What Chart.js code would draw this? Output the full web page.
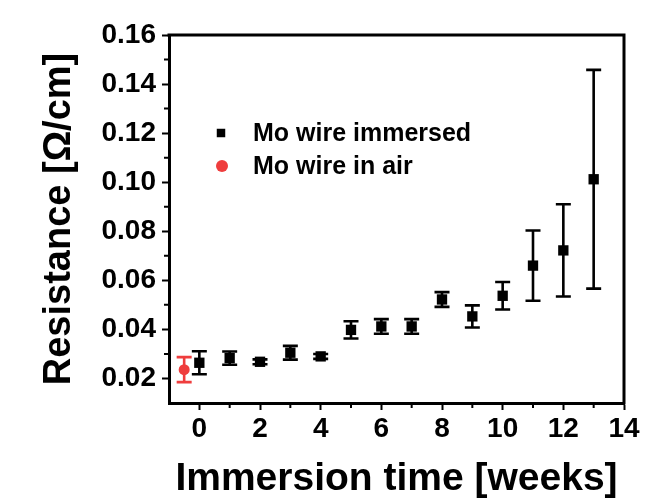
<!DOCTYPE html>
<html>
<head>
<meta charset="utf-8">
<script src="https://cdn.jsdelivr.net/npm/chart.js@4.4.1/dist/chart.umd.min.js"></script>
<style>
  html, body { margin: 0; background: #fff; }
  #wrap { width: 662px; height: 502px; }
</style>
</head>
<body>
<div id="wrap"><canvas id="chart"></canvas></div>
<script>
// Data
const weeks = [0, 1, 2, 3, 4, 5, 6, 7, 8, 9, 10, 11, 12, 13];
const resistance = [0.0264, 0.0283, 0.0268, 0.0305, 0.0290, 0.0398, 0.0412, 0.0412, 0.0522, 0.0453, 0.0537, 0.0660, 0.0722, 0.1012];
const resistanceErr = [0.0047, 0.0027, 0.0010, 0.0028, 0.0010, 0.0035, 0.0030, 0.0030, 0.0030, 0.0045, 0.0056, 0.0143, 0.0188, 0.0446];

const airWeeks = [-0.5];
const airResistance = [0.0236];
const airErr = [0.0051];

const xTickValues = [0, 2, 4, 6, 8, 10, 12, 14];
const xMinorTicks = [1, 3, 5, 7, 9, 11, 13];
const yTickValues = [0.02, 0.04, 0.06, 0.08, 0.10, 0.12, 0.14, 0.16];
const yMinorTicks = [0.03, 0.05, 0.07, 0.09, 0.11, 0.13, 0.15];

const xTitle = 'Immersion time [weeks]';
const yTitle = 'Resistance [Ω/cm]';

const FONT = "'Liberation Sans', Arial, sans-serif";
const RED = '#ef3d3d';

// error bars drawn under the markers
const errorBars = {
    id: 'errorBars',
    beforeDatasetsDraw(chart) {
        const { ctx, scales: { x, y } } = chart;
        chart.data.datasets.forEach(ds => {
            ctx.save();
            ctx.strokeStyle = ds.backgroundColor;
            ctx.lineWidth = 2.6;
            ds.data.forEach((p, i) => {
                const px = x.getPixelForValue(p.x);
                const top = y.getPixelForValue(p.y + ds.errors[i]);
                const bot = y.getPixelForValue(p.y - ds.errors[i]);
                ctx.beginPath();
                ctx.moveTo(px, top); ctx.lineTo(px, bot);
                ctx.moveTo(px - 7.5, top); ctx.lineTo(px + 7.5, top);
                ctx.moveTo(px - 7.5, bot); ctx.lineTo(px + 7.5, bot);
                ctx.stroke();
            });
            ctx.restore();
        });
    }
};

// top/right frame, minor ticks, y title, legend inside the plot
const frameAndLegend = {
    id: 'frameAndLegend',
    afterDraw(chart) {
        const { ctx, chartArea: a, scales: { x, y } } = chart;
        ctx.save();
        ctx.strokeStyle = '#000';
        ctx.lineWidth = 3;
        ctx.beginPath();
        ctx.moveTo(a.left - 1.5, a.top);
        ctx.lineTo(a.right, a.top);
        ctx.lineTo(a.right, a.bottom + 1.5);
        ctx.stroke();

        ctx.lineWidth = 2;
        ctx.beginPath();
        xMinorTicks.forEach(v => {
            const px = x.getPixelForValue(v);
            ctx.moveTo(px, a.bottom); ctx.lineTo(px, a.bottom + 5);
        });
        yMinorTicks.forEach(v => {
            const py = y.getPixelForValue(v);
            ctx.moveTo(a.left, py); ctx.lineTo(a.left - 5, py);
        });
        ctx.stroke();

        // y axis title
        ctx.save();
        ctx.translate(60, (a.top + a.bottom) / 2);
        ctx.rotate(-Math.PI / 2);
        ctx.font = 'bold 38px ' + FONT;
        ctx.fillStyle = '#000';
        ctx.textAlign = 'center';
        ctx.textBaseline = 'middle';
        ctx.fillText(yTitle, 0, 0);
        ctx.restore();

        // legend
        const items = [
            { ds: chart.data.datasets[0], x: 221, y: 133, radius: 6 },
            { ds: chart.data.datasets[1], x: 222, y: 166, radius: 6 }
        ];
        ctx.font = 'bold 25px ' + FONT;
        ctx.textBaseline = 'middle';
        ctx.textAlign = 'left';
        items.forEach(it => {
            ctx.fillStyle = it.ds.backgroundColor;
            Chart.helpers.drawPoint(ctx, { pointStyle: it.ds.pointStyle, radius: it.radius, rotation: 0, borderWidth: 0 }, it.x, it.y);
            ctx.fillStyle = '#000';
            ctx.fillText(it.ds.label, 253, it.y + 1);
        });
        ctx.restore();
    }
};

new Chart(document.getElementById('chart'), {
    type: 'scatter',
    data: {
        datasets: [
            {
                label: 'Mo wire immersed',
                data: weeks.map((w, i) => ({ x: w, y: resistance[i] })),
                errors: resistanceErr,
                pointStyle: 'rect',
                pointRadius: 7.3,
                pointHoverRadius: 7.3,
                borderWidth: 0,
                backgroundColor: '#000'
            },
            {
                label: 'Mo wire in air',
                data: airWeeks.map((w, i) => ({ x: w, y: airResistance[i] })),
                errors: airErr,
                pointStyle: 'circle',
                pointRadius: 5.5,
                pointHoverRadius: 5.5,
                borderWidth: 0,
                backgroundColor: RED
            }
        ]
    },
    options: {
        responsive: true,
        maintainAspectRatio: false,
        animation: false,
        layout: { padding: { left: 0, top: 35, right: 38, bottom: 0 } },
        plugins: {
            legend: { display: false },
            tooltip: { enabled: false }
        },
        scales: {
            x: {
                type: 'linear',
                min: -1,
                max: 14,
                afterFit: s => { s.height = 99; },
                afterBuildTicks: s => { s.ticks = xTickValues.map(v => ({ value: v })); },
                grid: { drawOnChartArea: false, tickLength: 7, tickWidth: 2, tickColor: '#000' },
                border: { color: '#000', width: 3 },
                ticks: {
                    color: '#000',
                    padding: 2,
                    maxRotation: 0,
                    font: { family: FONT, weight: 'bold', size: 28 },
                    callback: v => String(v)
                },
                title: {
                    display: true,
                    text: xTitle,
                    color: '#000',
                    padding: { top: 0, bottom: 3 },
                    font: { family: FONT, weight: 'bold', size: 39, lineHeight: 1 }
                }
            },
            y: {
                type: 'linear',
                min: 0.01,
                max: 0.16,
                afterFit: s => { s.width = 169; },
                afterBuildTicks: s => { s.ticks = yTickValues.map(v => ({ value: v })); },
                grid: { drawOnChartArea: false, tickLength: 7, tickWidth: 2, tickColor: '#000' },
                border: { color: '#000', width: 3 },
                ticks: {
                    color: '#000',
                    padding: 6,
                    font: { family: FONT, weight: 'bold', size: 28 },
                    callback: v => v.toFixed(2)
                },
                title: { display: false }
            }
        }
    },
    plugins: [errorBars, frameAndLegend]
});
</script>
</body>
</html>
